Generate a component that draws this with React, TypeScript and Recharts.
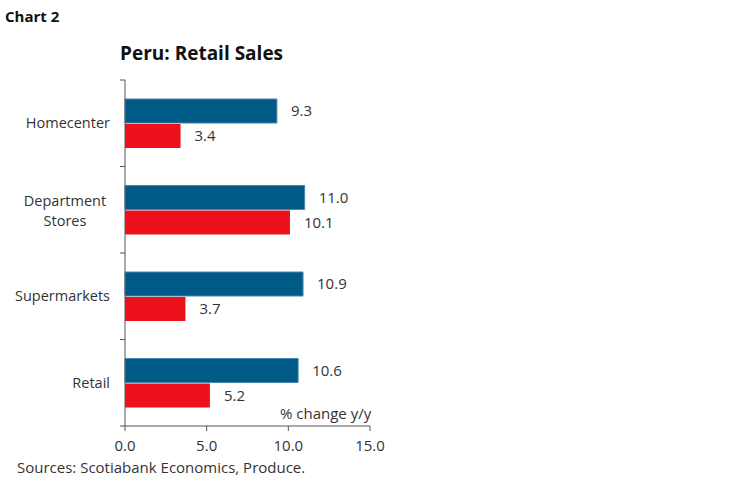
import { BarChart, Bar, XAxis, YAxis, LabelList } from 'recharts';

const categories = ['Homecenter', 'Department\nStores', 'Supermarkets', 'Retail'];
const blueValues = [9.3, 11.0, 10.9, 10.6];
const redValues = [3.4, 10.1, 3.7, 5.2];
const xTicks = [0, 5, 10, 15];

const data = categories.map((name, i) => ({
  name,
  blue: blueValues[i],
  red: redValues[i],
}));

const font = '"Open Sans", sans-serif';
const plotHeight = 346;
const band = plotHeight / categories.length;

// label at band centre, tick line at band top (and bottom for the last one)
function CategoryTick(props: any) {
  const { x, y, payload, index } = props;
  const axisX = x + 15;
  const lines = String(payload.value).split('\n');
  const top = y - band / 2;
  return (
    <g>
      <line x1={axisX - 5} x2={axisX} y1={top} y2={top} stroke="#555" />
      {index === categories.length - 1 && (
        <line x1={axisX - 5} x2={axisX} y1={top + band} y2={top + band} stroke="#555" />
      )}
      {lines.length === 1 ? (
        <text x={x} y={y} dy={5} textAnchor="end" fill="#333" fontSize={14.5} fontFamily={font}>
          {lines[0]}
        </text>
      ) : (
        lines.map((l, i) => (
          <text
            key={i}
            x={x - 45}
            y={y}
            dy={-4 + i * 20}
            textAnchor="middle"
            fill="#333"
            fontSize={14.5}
            fontFamily={font}
          >
            {l}
          </text>
        ))
      )}
    </g>
  );
}

export default function App() {
  return (
    <div style={{ position: 'absolute', left: 0, top: 0, width: 749, height: 482, background: '#fff', fontFamily: font }}>
      <div style={{ position: 'absolute', left: 5, top: 6, fontSize: 15, fontWeight: 700, color: '#111' }}>Chart 2</div>
      <div style={{ position: 'absolute', left: 120, top: 40, fontSize: 19, fontWeight: 700, color: '#111' }}>
        Peru: Retail Sales
      </div>
      <BarChart
        width={749}
        height={482}
        data={data}
        layout="vertical"
        margin={{ top: 80, right: 379, bottom: 26, left: 0 }}
        barCategoryGap="22%"
        barGap={1}
      >
        <XAxis
          type="number"
          domain={[0, 15]}
          ticks={xTicks}
          tickFormatter={(v: number) => v.toFixed(1)}
          axisLine={{ stroke: '#555' }}
          tickLine={{ stroke: '#555' }}
          tickSize={5}
          tickMargin={9}
          height={30}
          tick={{ fill: '#333', fontSize: 15, fontFamily: font }}
        />
        <YAxis
          type="category"
          dataKey="name"
          width={125}
          axisLine={{ stroke: '#555' }}
          tickLine={false}
          tickSize={6}
          tickMargin={9}
          tick={<CategoryTick />}
          interval={0}
        />
        <Bar dataKey="blue" fill="#005a87" stroke="#4a86ad" strokeWidth={1} isAnimationActive={false}>
          <LabelList
            dataKey="blue"
            position="right"
            offset={14}
            formatter={(v: any) => Number(v).toFixed(1)}
            style={{ fill: '#333', fontSize: 15, fontFamily: font }}
          />
        </Bar>
        <Bar dataKey="red" fill="#ec111a" isAnimationActive={false}>
          <LabelList
            dataKey="red"
            position="right"
            offset={14}
            formatter={(v: any) => Number(v).toFixed(1)}
            style={{ fill: '#333', fontSize: 15, fontFamily: font }}
          />
        </Bar>
      </BarChart>
      <div style={{ position: 'absolute', left: 280, top: 403, fontSize: 15, color: '#333' }}>% change y/y</div>
      <div style={{ position: 'absolute', left: 17, top: 457, fontSize: 15, color: '#333' }}>
        Sources: Scotiabank Economics, Produce.
      </div>
    </div>
  );
}
